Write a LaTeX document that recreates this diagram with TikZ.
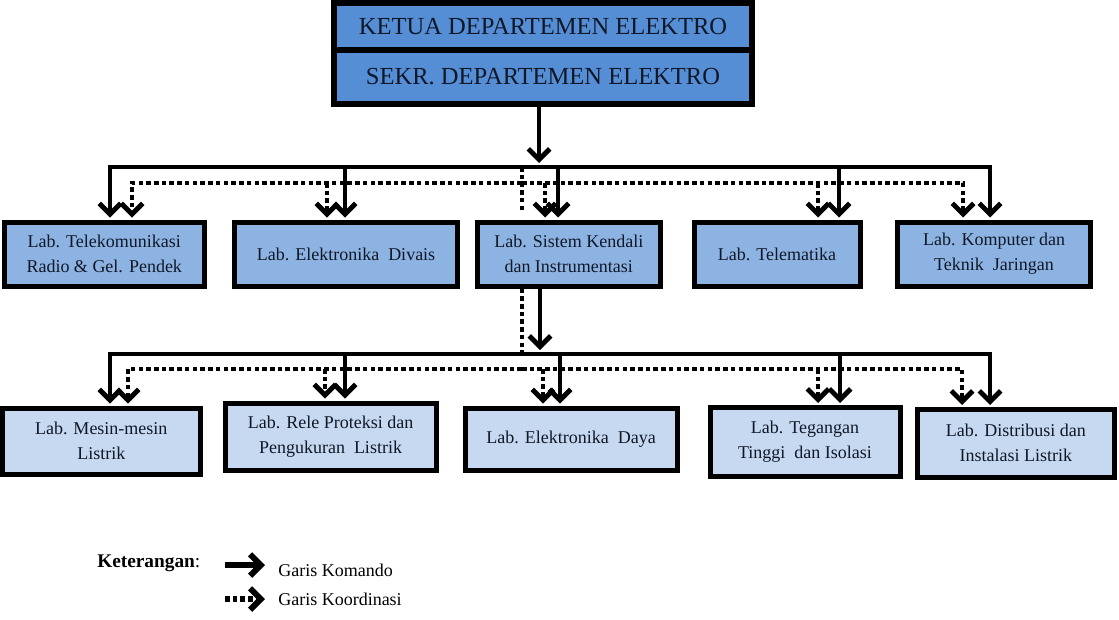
\documentclass[tikz,border=0pt]{standalone}
\usepackage{fontspec}
\setmainfont{Liberation Serif}
\usetikzlibrary{arrows.meta}
\definecolor{topblue}{HTML}{558ED5}
\definecolor{midblue}{HTML}{8DB3E2}
\definecolor{lowblue}{HTML}{C6D9F1}
\definecolor{ink}{HTML}{101828}
\begin{document}
\begin{tikzpicture}[x=0.75pt,y=-0.75pt,
  box/.style={draw=black, line width=3.75pt, inner sep=0pt, align=center, text=ink, font=\fontsize{13.5pt}{18.75pt}\selectfont},
  sz/.style 2 args={minimum width=#1*0.75pt, minimum height=#2*0.75pt},
  topbox/.style={box, fill=topblue, line width=4.5pt, font=\fontsize{18.4pt}{22pt}\selectfont},
  midbox/.style={box, fill=midblue},
  lowbox/.style={box, fill=lowblue},
  cmd/.style={line width=3.7pt, shorten >=1.5pt, -{Straight Barb[length=8pt,width=16pt]}},
  crd/.style={line width=3.7pt, shorten >=1.5pt, dash pattern=on 3.4pt off 2.4pt, -{Straight Barb[length=8pt,width=16pt]}},
  crdline/.style={line width=3.7pt, dash pattern=on 3.4pt off 2.4pt},
  legend/.style={font=\fontsize{13.5pt}{16pt}\selectfont, anchor=west, inner sep=0pt, text=black}]
\useasboundingbox[fill=white] (0,0) rectangle (1119,619);

% top
\node[topbox, sz={418}{47}] (ketua) at (543,26.5) {KETUA DEPARTEMEN ELEKTRO};
\node[topbox, sz={418}{54}] (sekr) at (543,77) {SEKR. DEPARTEMEN ELEKTRO};

% row 1
\node[midbox, sz={199.5}{64}] (tele) at (104.25,254) {Lab. Telekomunikasi\\Radio \& Gel. Pendek};
\node[midbox, sz={223}{64}] (divais) at (346,254) {Lab. Elektronika~ Divais};
\node[midbox, sz={182.5}{64}] (sk) at (568.75,254) {Lab. Sistem Kendali\\dan Instrumentasi};
\node[midbox, sz={166}{64}] (telem) at (777,254) {Lab. Telematika};
\node[midbox, sz={193}{64}] (komp) at (994,254) {Lab. Komputer dan\\Teknik~ Jaringan};

% row 2
\node[lowbox, sz={197.5}{66}] (mesin) at (101.25,441) {Lab. Mesin-mesin\\Listrik};
\node[lowbox, sz={211}{67}] (rele) at (330.5,436.5) {Lab. Rele Proteksi dan\\Pengukuran~ Listrik};
\node[lowbox, sz={212}{62}] (daya) at (571,439) {Lab. Elektronika~ Daya};
\node[lowbox, sz={190}{68.5}] (teg) at (805,441.75) {Lab. Tegangan\\Tinggi~ dan Isolasi};
\node[lowbox, sz={196.5}{67.5}] (distr) at (1015.75,443.25) {Lab. Distribusi dan\\Instalasi Listrik};

% bus coordinates
\coordinate (b1) at (539,167);
\coordinate (d1) at (522,183);
\coordinate (b2) at (540,354);
\coordinate (d2) at (522,369);

% upper coordination
\draw[crdline] (b1 -| 522,0) -- (522,212);
\draw[crd] (d1) -| (tele.north -| 132,0);
\draw[crd] (d1) -| (komp.north -| 963,0);
\draw[crd] (d1 -| 327,0) -- (divais.north -| 327,0);
\draw[crd] (d1 -| 545,0) -- (sk.north -| 545,0);
\draw[crd] (d1 -| 818,0) -- (telem.north -| 818,0);

% upper command
\draw[cmd] (sekr.south -| b1) -- (539,165);
\draw[cmd] (b1) -| (tele.north -| 110,0);
\draw[cmd] (b1) -| (komp.north -| 990,0);
\draw[cmd] (b1 -| 345,0) -- (divais.north -| 345,0);
\draw[cmd] (b1 -| 558,0) -- (sk.north -| 558,0);
\draw[cmd] (b1 -| 839,0) -- (telem.north -| 839,0);

% lower coordination
\draw[crdline] (sk.south -| 522,0) -- (522,358);
\draw[crd] (d2) -| (mesin.north -| 128,0);
\draw[crd] (d2) -| (distr.north -| 962,0);
\draw[crd] (d2 -| 325,0) -- (rele.north -| 325,0);
\draw[crd] (d2 -| 543,0) -- (daya.north -| 543,0);
\draw[crd] (d2 -| 818,0) -- (teg.north -| 818,0);

% lower command
\draw[cmd] (sk.south -| b2) -- (540,352);
\draw[cmd] (b2) -| (mesin.north -| 110,0);
\draw[cmd] (b2) -| (distr.north -| 990,0);
\draw[cmd] (b2 -| 345,0) -- (rele.north -| 345,0);
\draw[cmd] (b2 -| 560,0) -- (daya.north -| 560,0);
\draw[cmd] (b2 -| 840,0) -- (teg.north -| 840,0);

% legend
\node[legend, font=\fontsize{14.5pt}{17pt}\selectfont] (ket) at (97,563) {\textbf{Keterangan}:};
\coordinate (la1) at (225,565);
\coordinate (la2) at (265,565);
\coordinate (lb1) at (225,599);
\coordinate (lb2) at (265,599);
\draw[cmd, line width=4.5pt, shorten >=0pt] (la1) -- (la2);
\draw[crd, line width=4.5pt, shorten >=0pt] (lb1) -- (lb2);
\node[legend] (lk) at (278,570) {Garis Komando};
\node[legend] (lko) at (278,599) {Garis Koordinasi};
\end{tikzpicture}
\end{document}
